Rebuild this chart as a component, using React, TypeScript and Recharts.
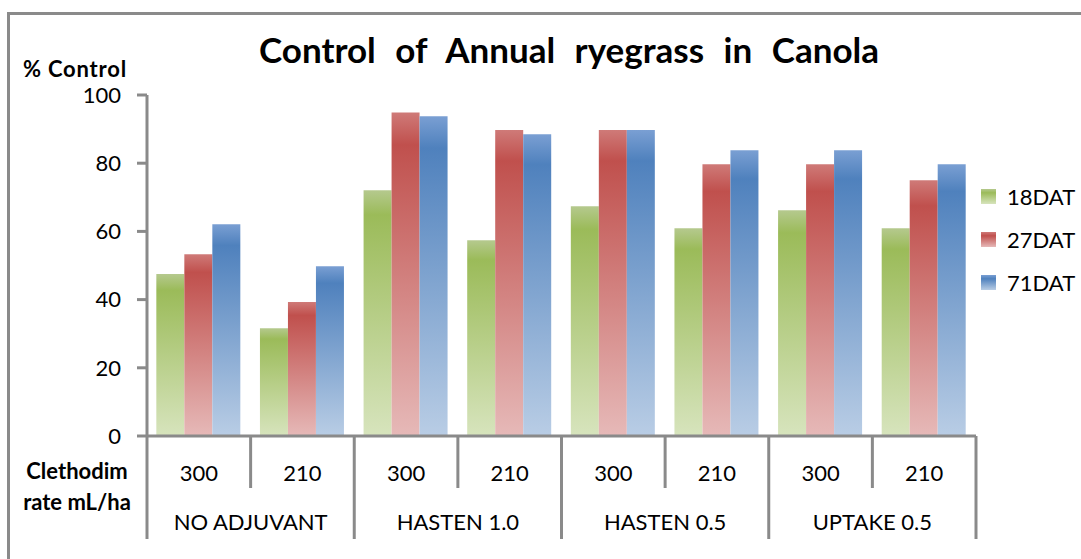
import { BarChart, Bar, XAxis, YAxis } from 'recharts';

// Clethodim rate per bar, grouped by adjuvant
const rates = ['300', '210', '300', '210', '300', '210', '300', '210'];
const adjuvants = ['NO ADJUVANT', 'HASTEN 1.0', 'HASTEN 0.5', 'UPTAKE 0.5'];
const seriesNames = ['18DAT', '27DAT', '71DAT'];
const dat18 = [47.5, 31.6, 72.1, 57.4, 67.4, 60.9, 66.2, 60.9];
const dat27 = [53.3, 39.3, 94.9, 89.7, 89.7, 79.7, 79.7, 75.0];
const dat71 = [62.1, 49.8, 93.8, 88.5, 89.7, 83.8, 83.8, 79.7];
const yTicks = [0, 20, 40, 60, 80, 100];

const data = rates.map((rate, i) => ({
  id: i,
  rate,
  d18: dat18[i],
  d27: dat27[i],
  d71: dat71[i],
}));

const W = 1081;
const H = 559;
const PLOT_LEFT = 147;
const PLOT_RIGHT = 976;
const AXIS_Y = 436;
const BAND = (PLOT_RIGHT - PLOT_LEFT) / rates.length;
const GRAY = '#8a8a8a';
const FONT = 'Lato, "Open Sans", sans-serif';

const gradients = [
  { id: 'g18', top: '#b5c98e', mid: '#9bbb59', bottom: '#d7e4bd' },
  { id: 'g27', top: '#cf7a78', mid: '#c0504d', bottom: '#e6b9b8' },
  { id: 'g71', top: '#7a9fd3', mid: '#4f81bd', bottom: '#b9cde5' },
];

// eslint-disable-next-line @typescript-eslint/no-explicit-any
function RateTick(props: any) {
  const { payload } = props;
  const i: number = payload.index;
  const cx: number = payload.coordinate;
  const left = cx - BAND / 2;
  const right = cx + BAND / 2;
  const groupEnd = i % 2 === 1;
  return (
    <g>
      {i === 0 && (
        <line x1={left} x2={left} y1={AXIS_Y} y2={AXIS_Y + 103} stroke={GRAY} strokeWidth={3} />
      )}
      <line x1={right} x2={right} y1={AXIS_Y} y2={AXIS_Y + (groupEnd ? 103 : 52)} stroke={GRAY} strokeWidth={3} />
      <text x={cx} y={481} textAnchor="middle" fontSize={22} fontFamily={FONT} fill="#000">
        {rates[i]}
      </text>
      {i % 2 === 0 && (
        <text x={right} y={530} textAnchor="middle" fontSize={22} fontFamily={FONT} fill="#000">
          {adjuvants[i / 2]}
        </text>
      )}
    </g>
  );
}

function LegendBox() {
  return (
    <div style={{ position: 'absolute', left: 981, top: 175, fontFamily: FONT, fontSize: 22, color: '#000' }}>
      {seriesNames.map((name, i) => (
        <div key={name} style={{ display: 'flex', alignItems: 'center', height: 43 }}>
          <div style={{
            width: 15, height: 15, marginRight: 11,
            background: `linear-gradient(${gradients[i].top}, ${gradients[i].mid} 25%, ${gradients[i].bottom})`,
          }} />
          <span>{name}</span>
        </div>
      ))}
    </div>
  );
}

export default function App() {
  return (
    <div style={{ position: 'absolute', left: 0, top: 0, width: W, height: H, overflow: 'hidden', background: '#fff' }}>
      {/* outer chart frame, cropped on the right and bottom */}
      <div style={{ position: 'absolute', left: 7, top: 12, width: 1200, height: 700, border: `3px solid ${GRAY}` }} />

      <BarChart
        width={W}
        height={H}
        data={data}
        margin={{ top: 95, right: W - PLOT_RIGHT, bottom: 13, left: 0 }}
        barCategoryGap="9%"
        barGap={0}
      >
        <defs>
          {gradients.map(g => (
            <linearGradient key={g.id} id={g.id} x1="0" y1="0" x2="0" y2="1">
              <stop offset="0%" stopColor={g.top} />
              <stop offset="10%" stopColor={g.mid} />
              <stop offset="100%" stopColor={g.bottom} />
            </linearGradient>
          ))}
        </defs>
        <XAxis
          dataKey="id"
          height={H - 13 - AXIS_Y}
          interval={0}
          tickLine={false}
          axisLine={{ stroke: GRAY, strokeWidth: 3 }}
          tick={<RateTick />}
        />
        <YAxis
          width={PLOT_LEFT}
          domain={[0, 100]}
          ticks={yTicks}
          interval={0}
          tickSize={10}
          tickMargin={16}
          tickLine={{ stroke: GRAY, strokeWidth: 3 }}
          axisLine={{ stroke: GRAY, strokeWidth: 3 }}
          tick={{ fill: '#000', fontSize: 22, fontFamily: FONT }}
        />
        <Bar dataKey="d18" name={seriesNames[0]} fill="url(#g18)" isAnimationActive={false} />
        <Bar dataKey="d27" name={seriesNames[1]} fill="url(#g27)" isAnimationActive={false} />
        <Bar dataKey="d71" name={seriesNames[2]} fill="url(#g71)" isAnimationActive={false} />
      </BarChart>

      <LegendBox />

      <svg width={W} height={H} style={{ position: 'absolute', left: 0, top: 0, pointerEvents: 'none' }}>
        <text x={569} y={63} textAnchor="middle" fontSize={35} fontWeight={700} wordSpacing={11} fontFamily={FONT} fill="#000">
          Control of Annual ryegrass in Canola
        </text>
        <text x={23} y={77} fontSize={22} fontWeight={700} letterSpacing={0.8} fontFamily={FONT} fill="#000">% Control</text>
        <text x={77} y={479} textAnchor="middle" fontSize={22} fontWeight={700} fontFamily={FONT} fill="#000">Clethodim</text>
        <text x={77} y={510} textAnchor="middle" fontSize={22} fontWeight={700} fontFamily={FONT} fill="#000">rate mL/ha</text>
      </svg>
    </div>
  );
}
